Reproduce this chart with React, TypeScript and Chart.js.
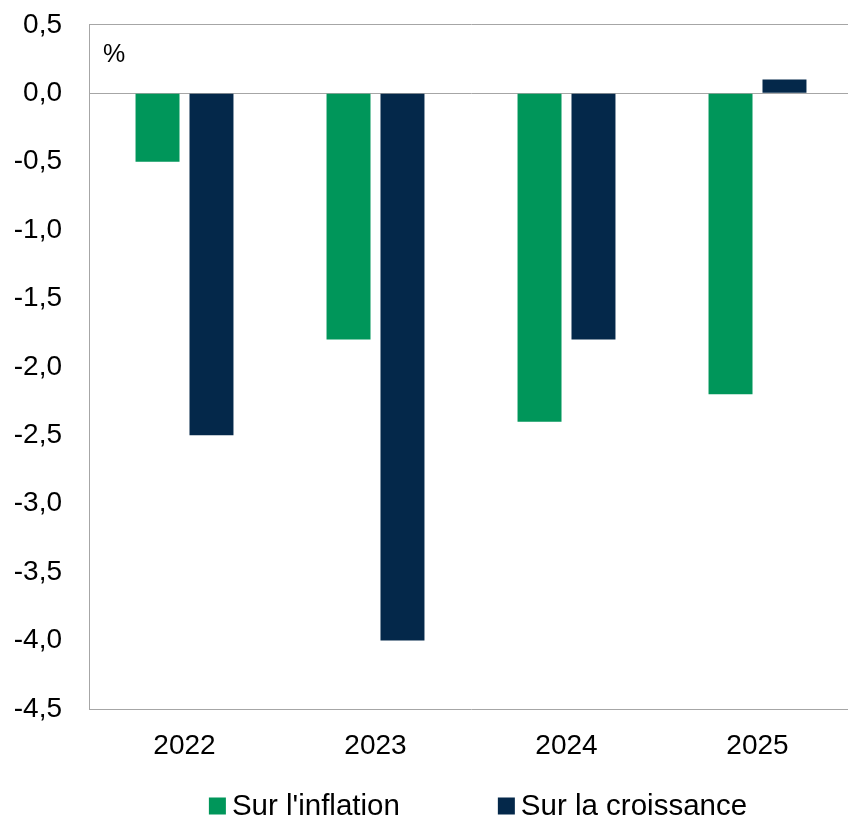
import React, { useEffect, useRef } from "react";
import { Chart, registerables } from "chart.js";

Chart.register(...registerables);

const categories = ["2022", "2023", "2024", "2025"];
const inflation = [-0.5, -1.8, -2.4, -2.2];
const croissance = [-2.5, -4.0, -1.8, 0.1];
const seriesNames = ["Sur l'inflation", "Sur la croissance"];
const seriesColors = ["#00965a", "#04284a"];
const unitLabel = "%";

const FONT = "'Liberation Sans', Arial, sans-serif";
const GRAY = "#a6a6a6";
const SHIFT = 19;

const extrasPlugin = {
  id: "extras",
  afterDraw(chart: any) {
    const ctx = chart.ctx;
    const area = chart.chartArea;
    ctx.save();
    // unit label
    ctx.fillStyle = "#000";
    ctx.font = `25px ${FONT}`;
    ctx.textAlign = "left";
    ctx.textBaseline = "middle";
    ctx.fillText(unitLabel, area.left + 14, area.top + 30);
    // legend
    ctx.font = `29.5px ${FONT}`;
    const box = 17;
    const gapText = 6;
    const itemGap = 98;
    const widths = seriesNames.map((n) => box + gapText + ctx.measureText(n).width);
    const total = widths.reduce((a, b) => a + b, 0) + itemGap * (widths.length - 1);
    let x = 478 - total / 2;
    const y = 806 + SHIFT;
    seriesNames.forEach((n, i) => {
      ctx.fillStyle = seriesColors[i];
      ctx.fillRect(x, y - box / 2, box, box);
      ctx.fillStyle = "#000";
      ctx.fillText(n, x + box + gapText, y + 1);
      x += widths[i] + itemGap;
    });
    ctx.restore();
  },
};

export default function App() {
  const ref = useRef<HTMLCanvasElement>(null);
  useEffect(() => {
    if (!ref.current) return;
    const chart = new Chart(ref.current, {
      type: "bar",
      data: {
        labels: categories,
        datasets: [
          {
            label: seriesNames[0],
            data: inflation,
            backgroundColor: seriesColors[0],
            categoryPercentage: 0.565,
            barPercentage: 0.815,
          },
          {
            label: seriesNames[1],
            data: croissance,
            backgroundColor: seriesColors[1],
            categoryPercentage: 0.565,
            barPercentage: 0.815,
          },
        ],
      },
      options: {
        responsive: false,
        animation: false,
        layout: { padding: { top: 5, right: 0, left: 0, bottom: 0 } },
        plugins: { legend: { display: false }, tooltip: { enabled: false } },
        scales: {
          x: {
            grid: { display: false, drawTicks: false },
            border: { display: true, color: GRAY, width: 1 },
            ticks: { color: "#000", font: { family: FONT, size: 28 }, padding: 20 },
            afterFit(scale: any) {
              scale.height = 110;
            },
          },
          y: {
            min: -4.5,
            max: 0.5,
            grid: {
              drawTicks: false,
              color: (c: any) =>
                c.tick && (Math.abs(c.tick.value) < 1e-9 || Math.abs(c.tick.value - 0.5) < 1e-9)
                  ? GRAY
                  : "rgba(0,0,0,0)",
              lineWidth: 1,
            },
            border: { display: true, color: GRAY, width: 1 },
            ticks: {
              stepSize: 0.5,
              color: "#000",
              padding: 27,
              font: { family: FONT, size: 28 },
              callback: (v: any) => Number(v).toFixed(1).replace(".", ","),
            },
            afterFit(scale: any) {
              scale.width = 89;
            },
          },
        },
      },
      plugins: [extrasPlugin],
    });
    return () => chart.destroy();
  }, []);
  return (
    <div
      style={{
        position: "fixed",
        left: 0,
        top: 0,
        width: 848,
        height: 819,
        overflow: "hidden",
        background: "#fff",
      }}
    >
      <canvas
        ref={ref}
        width={853}
        height={819 + SHIFT}
        style={{ display: "block", position: "absolute", left: 0, top: -SHIFT }}
      />
    </div>
  );
}
